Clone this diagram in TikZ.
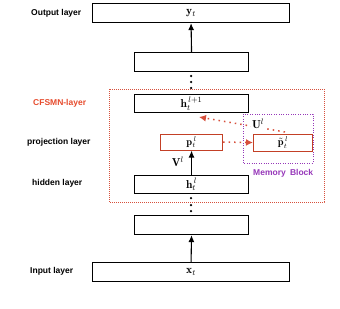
\documentclass[tikz,border=0pt]{standalone}
\usepackage{fontspec}
\setsansfont{Liberation Sans}
\usetikzlibrary{arrows.meta}
\definecolor{cfred}{RGB}{230,75,45}
\definecolor{dotred}{RGB}{215,80,60}
\definecolor{mempurple}{RGB}{150,55,185}
\tikzset{
  layerbox/.style={draw=black, line width=1.1pt, inner sep=0pt, anchor=north west, font=\fontsize{11.5}{12}\selectfont},
  projbox/.style={draw=cfred!85!black, line width=1.1pt, inner sep=0pt, anchor=north west, font=\fontsize{10.5}{11}\selectfont},
  lbl/.style={font=\sffamily\bfseries\fontsize{8.5}{10}\selectfont, inner sep=0pt},
  mlbl/.style={font=\fontsize{11.5}{12}\selectfont, inner sep=0pt},
  uparrow/.style={-{Latex[length=7pt,width=6pt]}, line width=1.1pt},
  redarrow/.style={-{Latex[length=7pt,width=7pt]}, dotred, line width=1.5pt, dash pattern=on 1.5pt off 4pt},
  dotc/.style={circle, fill=black, inner sep=0pt, minimum size=2.5pt}
}
\begin{document}
\begin{tikzpicture}[x=1pt,y=-1pt]
\useasboundingbox (0,0) rectangle (340,308);
% boxes
\node[layerbox, minimum width=197pt, minimum height=19pt] (out) at (92,3) {$\mathbf{y}_t$};
\node[layerbox, minimum width=114pt, minimum height=19pt] (b2) at (134,52) {};
\node[layerbox, minimum width=114pt, minimum height=18pt] (hl1) at (134,94) {$\mathbf{h}_t^{\,l+1}$};
\node[projbox, minimum width=62pt, minimum height=16pt] (p) at (160,133.5) {$\mathbf{p}_t^{\,l}$};
\node[projbox, minimum width=59pt, minimum height=17pt] (pt) at (253,133.5) {$\tilde{\mathbf{p}}_t^{\,l}$};
\node[layerbox, minimum width=114pt, minimum height=18pt] (hl) at (134,175) {$\mathbf{h}_t^{\,l}$};
\node[layerbox, minimum width=114pt, minimum height=19pt] (b1) at (134,215) {};
\node[layerbox, minimum width=197pt, minimum height=19pt] (in) at (92,262) {$\mathbf{x}_t$};
% dotted frames
\draw[dotred, line width=1pt, dash pattern=on 0.8pt off 1.2pt] (109,89) rectangle (324,202);
\draw[mempurple, line width=1pt, dash pattern=on 0.8pt off 1.6pt] (243,114) rectangle (313,163);
% arrows
\draw[uparrow] (b2.north) -- (out.south);
\draw[uparrow] (in.north) -- (b1.south);
\draw[uparrow] (hl.north -| p.south) -- (p.south);
\node[mlbl, anchor=east] (V) at (184,162) {$\mathbf{V}^{l}$};
% dots
\node[dotc] (d1) at (191,76) {};
\node[dotc] (d2) at (191,82) {};
\node[dotc] (d3) at (191,88) {};
\node[dotc] (d4) at (191,198) {};
\node[dotc] (d5) at (191,205) {};
\node[dotc] (d6) at (191,211) {};
% red dotted arrows
\coordinate (ptop) at (285,132);
\coordinate (htarget) at (199,117);
\draw[redarrow] (p.east) -- (pt.west);
\draw[redarrow] (ptop) -- (htarget);
\node[mlbl, fill=white, inner sep=1pt] (U) at (258,124) {$\mathbf{U}^{l}$};
% labels
\node[lbl, anchor=west] (lo) at (31,13) {Output layer};
\node[lbl, anchor=west, text=cfred] (lc) at (33,103) {CFSMN-layer};
\node[lbl, anchor=west] (lp) at (27,142) {projection layer};
\node[lbl, anchor=west] (lh) at (32,183) {hidden layer};
\node[lbl, anchor=west] (li) at (30,271) {Input layer};
\node[lbl, anchor=west, text=mempurple] (lm) at (253,173) {Memory\enspace Block};
\end{tikzpicture}
\end{document}
